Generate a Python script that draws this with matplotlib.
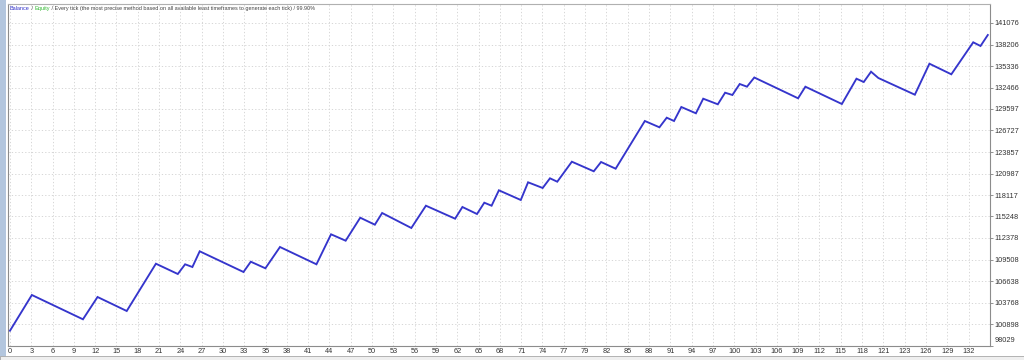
import matplotlib
matplotlib.use("Agg")
import matplotlib.pyplot as plt
from matplotlib.patches import Rectangle
from matplotlib.transforms import ScaledTranslation

# balance curve vertices (trade number, balance)
trade_no = [0, 3, 10, 12, 16, 20, 23, 24, 25, 26, 32, 33, 35, 37, 42, 44, 46, 48,
            50, 51, 55, 57, 61, 62, 64, 65, 66, 67, 70, 71, 73, 74, 75, 77, 80, 81,
            83, 87, 89, 90, 91, 92, 94, 95, 97, 98, 99, 100, 101, 102, 108, 109,
            114, 116, 117, 118, 119, 124, 126, 129, 132, 133, 134]
balance = [100000, 104770, 101526, 104503, 102634, 108947, 107573, 108868, 108507,
           110603, 107840, 109214, 108334, 111177, 108868, 112872, 112018, 115088,
           114153, 115715, 113713, 116689, 114954, 116516, 115581, 117090, 116689,
           118745, 117450, 119813, 119053, 120347, 119893, 122562, 121281, 122522,
           121628, 127995, 127154, 128436, 127995, 129864, 129023, 130972, 130224,
           131773, 131467, 132934, 132574, 133802, 131025, 132574, 130265, 133641,
           133200, 134575, 133735, 131505, 135644, 134229, 138500, 138006, 139474]

y_labels = ["98029", "100898", "103768", "106638", "109508", "112378", "115248",
            "118117", "120987", "123857", "126727", "129597", "132466", "135336",
            "138206", "141076"]
x_labels = ["0", "3", "6", "9", "12", "15", "18", "21", "24", "27", "30", "33", "35",
            "38", "41", "44", "47", "50", "53", "56", "59", "62", "65", "68", "71",
            "74", "77", "79", "82", "85", "88", "91", "94", "97", "100", "103", "106",
            "109", "112", "115", "118", "121", "123", "126", "129", "132"]

W, H = 1024, 360
fig = plt.figure(figsize=(W / 100, H / 100), dpi=100, facecolor="white")
ax = fig.add_axes([8 / W, (H - 345.5) / H, 982 / W, 341.5 / H])

ax.plot(trade_no, balance, color="#3535cc", lw=1.35, solid_joinstyle="miter", zorder=3)

ax.set_xlim(-0.27, 134.3)
ax.set_ylim(98029, 143612)

grid_step = 2.919
ax.set_xticks([k * grid_step for k in range(len(x_labels))])
ax.set_xticklabels(x_labels)
ax.set_yticks([int(v) for v in y_labels])
ax.set_yticklabels(y_labels)
ax.yaxis.tick_right()

for lab in ax.get_xticklabels() + ax.get_yticklabels():
    lab.set_fontfamily("Liberation Sans")
    lab.set_fontsize(5.3)
    lab.set_color("#333333")
ax.tick_params(axis="x", length=0, pad=1.5)
ax.tick_params(axis="y", length=2, width=0.6, color="#808080", pad=1.2)
# lowest balance label sits raised above the axis line, as in the terminal
low = ax.get_yticklabels()[0]
low.set_transform(low.get_transform() + ScaledTranslation(0, 4 / 72, fig.dpi_scale_trans))

ax.grid(True, color="#d0d0d0", lw=0.6, linestyle=(0, (1.5, 2.5)))
for s in ax.spines.values():
    s.set_color("#8c8c8c")
    s.set_linewidth(0.8)
ax.spines["top"].set_color("#b0b0b0")

# header text
hdr = dict(family="Liberation Sans", size=3.95)
t1 = ax.text(2 / 982, 1 - 2 / 341.5, "Balance", color="#3030c8", va="top", ha="left",
             transform=ax.transAxes, **hdr)
t2 = ax.annotate(" / ", xycoords=t1, xy=(1, 0), va="bottom", color="#444444", **hdr)
t3 = ax.annotate("Equity", xycoords=t2, xy=(1, 0), va="bottom", color="#2fb82f", **hdr)
ax.annotate(" / Every tick (the most precise method based on all available least "
            "timeframes to generate each tick) / 99.90%",
            xycoords=t3, xy=(1, 0), va="bottom", color="#444444", **hdr)

# window chrome: left strip and bottom tab bar
fig.patches.append(Rectangle((0, 0), 6 / W, 1, transform=fig.transFigure,
                             facecolor="#b3c6de", edgecolor="none"))
fig.patches.append(Rectangle((0, 0), 1, 4 / H, transform=fig.transFigure,
                             facecolor="#efefef", edgecolor="#a8a8a8", lw=0.6))

fig.savefig("out.png", dpi=100, facecolor="white")
